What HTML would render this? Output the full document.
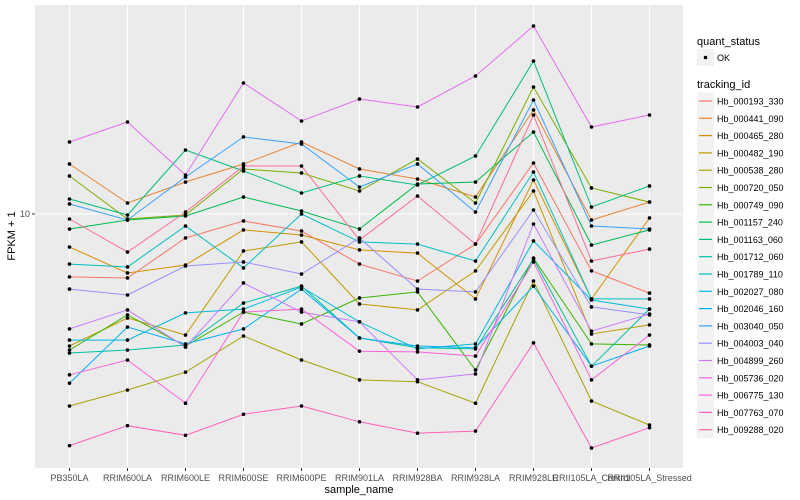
<!DOCTYPE html>
<html><head><meta charset="utf-8">
<style>
body{margin:0;background:#fff;}
svg{display:block;font-family:"Liberation Sans",sans-serif;}
</style></head>
<body>
<svg id="chart" width="800" height="500" viewBox="0 0 800 500" xmlns="http://www.w3.org/2000/svg">
<rect x="35" y="5" width="648" height="463" fill="#ebebeb"/>
<g id="grid"></g>
<g id="series"></g>
<g id="axes"></g>
<text transform="translate(15,236) rotate(-90)" text-anchor="middle" font-size="11" fill="#000">FPKM + 1</text>
<text x="359" y="493" text-anchor="middle" font-size="11" fill="#000">sample_name</text>
<g id="legend">
<text x="697" y="45" font-size="11">quant_status</text>
<rect x="697" y="49" width="17" height="17" fill="#f2f2f2"/>
<circle cx="705.5" cy="57.5" r="1.8" fill="#000"/>
<text x="717" y="61" font-size="9">OK</text>
<text x="697" y="88" font-size="11">tracking_id</text>
</g>
</svg>
<script>
const categories=["PB350LA","RRIM600LA","RRIM600LE","RRIM600SE","RRIM600PE","RRIM901LA","RRIM928BA","RRIM928LA","RRIM928LE","RRII105LA_Control","RRII105LA_Stressed"];
const seriesNames=["Hb_000193_330","Hb_000441_090","Hb_000465_280","Hb_000482_190","Hb_000538_280","Hb_000720_050","Hb_000749_090","Hb_001157_240","Hb_001163_060","Hb_001712_060","Hb_001789_110","Hb_002027_080","Hb_002046_160","Hb_003040_050","Hb_004003_040","Hb_004899_260","Hb_005736_020","Hb_006775_130","Hb_007763_070","Hb_009288_020"];
const seriesColors=["#F8766D","#EA8331","#D89000","#C09B00","#A3A500","#7CAE00","#39B600","#00BB4E","#00BF7D","#00C1A3","#00BFC4","#00BAE0","#00B0F6","#35A2FF","#9590FF","#C77CFF","#E76BF3","#FA62DB","#FF62BC","#FF6C91"];
const v000193=[6.17,6.12,8.32,9.48,8.78,6.81,5.98,7.94,14.79,6.46,5.45];
const v000441=[14.68,10.88,12.78,14.68,17.38,14.13,13.08,11.39,22.22,9.55,10.96];
const v000465=[7.76,6.36,6.76,8.85,8.51,7.59,7.41,5.21,12.98,5.21,9.70];
const v000482=[3.63,4.50,3.95,7.53,8.07,5.01,4.79,6.46,11.93,3.98,4.27];
const v000538=[2.29,2.59,2.97,3.92,3.26,2.80,2.76,2.34,5.98,2.38,1.98];
const v000720=[13.39,9.62,9.92,14.13,13.70,11.93,15.25,10.88,26.50,12.21,10.96];
const v000749=[3.52,4.61,3.63,4.71,4.30,5.25,5.50,3.02,7.13,3.69,3.66];
const v001157=[8.91,9.55,9.85,11.39,10.23,8.91,12.59,12.78,18.76,7.88,8.85];
const v001163=[11.22,9.92,16.34,13.91,11.75,13.39,12.49,15.61,32.36,10.55,12.40];
const v001712=[3.44,3.52,3.66,5.05,5.75,3.86,3.58,3.55,7.08,3.11,4.82];
const v001789=[6.81,6.66,9.12,6.61,10.00,8.07,7.94,6.97,13.80,5.21,5.21];
const v002027=[3.80,3.80,4.68,4.82,5.71,4.37,3.55,3.69,8.13,5.17,4.82];
const v002046=[2.73,4.20,3.69,4.14,5.62,3.86,3.63,3.58,5.75,3.11,3.63];
const v003040=[10.80,9.55,13.28,18.06,17.11,12.30,14.68,10.15,23.98,9.12,8.91];
const v004003=[5.62,5.37,6.71,6.92,6.31,8.32,5.62,5.50,10.31,4.90,4.61];
const v004899=[4.14,4.79,3.60,5.89,4.71,4.37,2.80,2.93,9.26,4.07,4.64];
const v005736=[17.38,20.26,13.49,27.33,20.41,24.17,22.73,28.84,42.33,19.50,21.38];
const v006775=[2.91,3.26,2.34,4.71,4.82,3.49,3.47,3.36,6.92,2.80,3.95];
const v007763=[1.69,1.97,1.83,2.15,2.29,2.03,1.86,1.89,3.72,1.66,1.94];
const v009288=[9.62,7.47,10.15,14.45,14.45,8.19,11.48,7.94,21.38,6.97,7.64];
const seriesValues=[v000193,v000441,v000465,v000482,v000538,v000720,v000749,v001157,v001163,v001712,v001789,v002027,v002046,v003040,v004003,v004899,v005736,v006775,v007763,v009288];
const yTickValues=[10];
const yTickLabels=["10"];

const NS="http://www.w3.org/2000/svg";
function xScale(i){return 69.5+i*58;}
function yScale(v){return 214-300*Math.log10(v/10);}
function mk(tag,attrs,parent){const e=document.createElementNS(NS,tag);for(const k in attrs)e.setAttribute(k,attrs[k]);parent.appendChild(e);return e;}
const grid=document.getElementById('grid'),ser=document.getElementById('series'),axes=document.getElementById('axes'),legend=document.getElementById('legend');
// minor gridline roughly between ticks
categories.forEach((c,i)=>{
  const g=mk('line',{x1:xScale(i),x2:xScale(i),y1:5,y2:468,stroke:'#fff','stroke-width':1.1},grid);
  
  
  const t=mk('line',{x1:xScale(i),x2:xScale(i),y1:468,y2:471,stroke:'#333','stroke-width':1},axes);
  
  
  const lb=mk('text',{x:xScale(i),y:481,'text-anchor':'middle','font-size':9,fill:'#4d4d4d'},axes);
  lb.textContent=c;
  
  
});
yTickValues.forEach((v,i)=>{
  const y=yScale(v);
  const g=mk('line',{x1:35,x2:683,y1:y,y2:y,stroke:'#fff','stroke-width':1.1},grid);
  
  
  const t=mk('line',{x1:32,x2:35,y1:y,y2:y,stroke:'#333','stroke-width':1},axes);
  
  
  const lb=mk('text',{x:30,y:y+3,'text-anchor':'end','font-size':9,fill:'#4d4d4d'},axes);
  lb.textContent=yTickLabels[i];
  
  
});
seriesValues.forEach((vals,s)=>{
  const pts=vals.map((v,i)=>xScale(i).toFixed(1)+','+yScale(v).toFixed(1)).join(' ');
  const pl=mk('polyline',{points:pts,fill:'none',stroke:seriesColors[s],'stroke-width':1},ser);
  
  
});
seriesValues.forEach((vals,s)=>{
  vals.forEach((v,i)=>{
    const c=mk('circle',{cx:xScale(i),cy:yScale(v),r:1.8,fill:'#000'},ser);
    
    
  });
});
seriesNames.forEach((n,s)=>{
  const y=92.5+s*17.3;
  const r=mk('rect',{x:697,y:y,width:17,height:17,fill:'#f2f2f2'},legend);
  
  
  mk('line',{x1:699,x2:712,y1:y+8.5,y2:y+8.5,stroke:seriesColors[s],'stroke-width':1.2},legend);
  const t=mk('text',{x:717,y:y+12,'font-size':9,fill:'#000'},legend);
  t.textContent=n;
  
  
});
</script>
</body></html>
